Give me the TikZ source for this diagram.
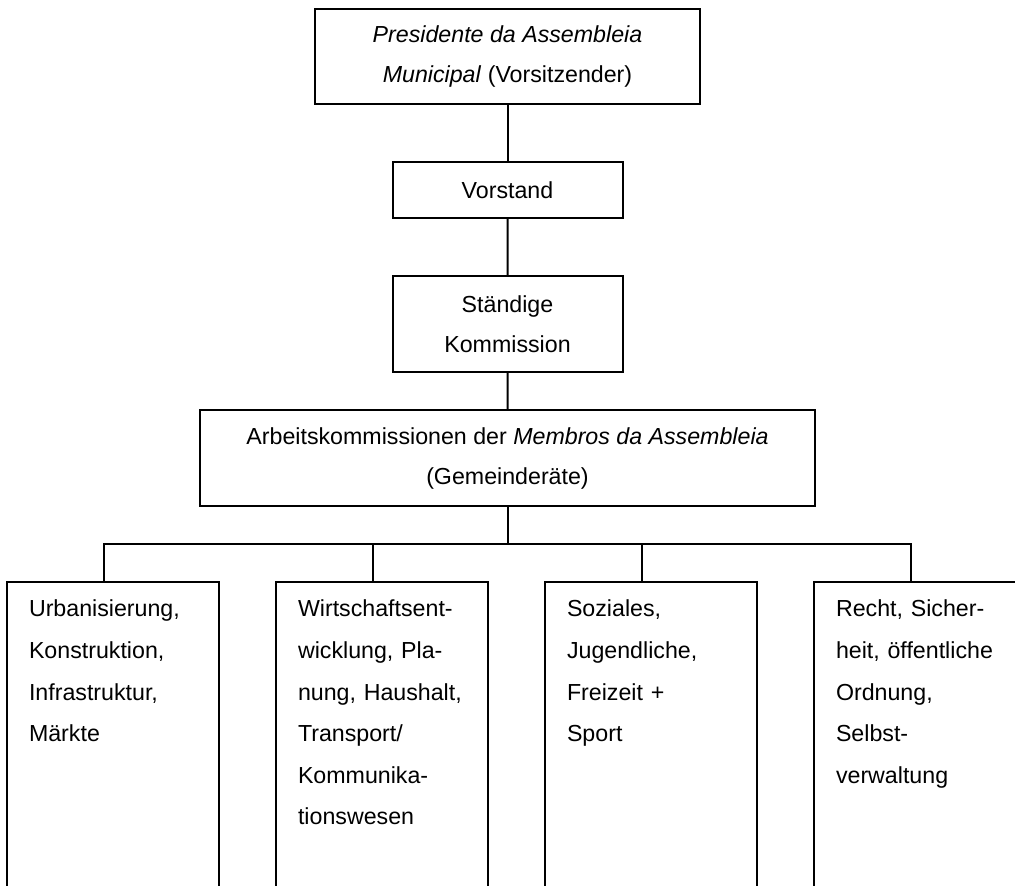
\documentclass[tikz,border=0pt]{standalone}
\usepackage{fontspec}
\setmainfont{Liberation Sans}
\usetikzlibrary{trees,positioning}

\begin{document}
\begin{tikzpicture}[x=0.5pt, y=-0.5pt, line width=1pt,
  grow=down, growth parent anchor=south,
  parent anchor=south, child anchor=north,
  edge from parent/.style={draw, line width=1pt},
  every node/.style = {shape=rectangle, draw, align=center, anchor=north,
    font=\fontsize{11.6pt}{20pt}\selectfont},
  level 1/.style={level distance=28pt},
  level 2/.style={level distance=28pt},
  level 3/.style={level distance=18pt},
  level 4/.style={level distance=37pt, sibling distance=134.5pt,
    edge from parent path={(\tikzparentnode.south) -- +(0pt,-18.5pt)
      -| ([xshift=-4.5pt]\tikzchildnode.north)}},
  fach/.style={align=left, text width=84pt, inner xsep=11pt, inner ysep=9pt,
    xshift=4.5pt, text depth=170pt,
    font=\fontsize{11.6pt}{20.8pt}\selectfont}]
  \useasboundingbox (0,0) rectangle (1015,885);
  \clip (0,0) rectangle (1015,885);
  \node[minimum width=192.5pt, minimum height=47.5pt] (praes) at (507.5,8)
    {\textit{Presidente da Assembleia}\\ \textit{Municipal} (Vorsitzender)}
    child { node[minimum width=115pt, minimum height=28pt] (vorstand) {Vorstand}
     child { node[minimum width=115pt, minimum height=48pt] (staendig) {Ständige\\ Kommission}
      child { node[minimum width=307.5pt, minimum height=48pt] (arbeit)
        {Arbeitskommissionen der \textit{Membros da Assembleia}\\ (Gemeinderäte)}
       child { node[fach] (k1) {Urbanisierung,\\ Konstruktion,\\ Infrastruktur,\\ Märkte} }
       child { node[fach] (k2) {Wirtschaftsent-\\ wicklung, Pla-\\ nung, Haushalt,\\ Transport/\\ Kommunika-\\ tionswesen} }
       child { node[fach] (k3) {Soziales,\\ Jugendliche,\\ Freizeit +\\ Sport} }
       child { node[fach] (k4) {Recht, Sicher-\\ heit, öffentliche\\ Ordnung,\\ Selbst-\\ verwaltung} } } } };
\end{tikzpicture}
\end{document}
